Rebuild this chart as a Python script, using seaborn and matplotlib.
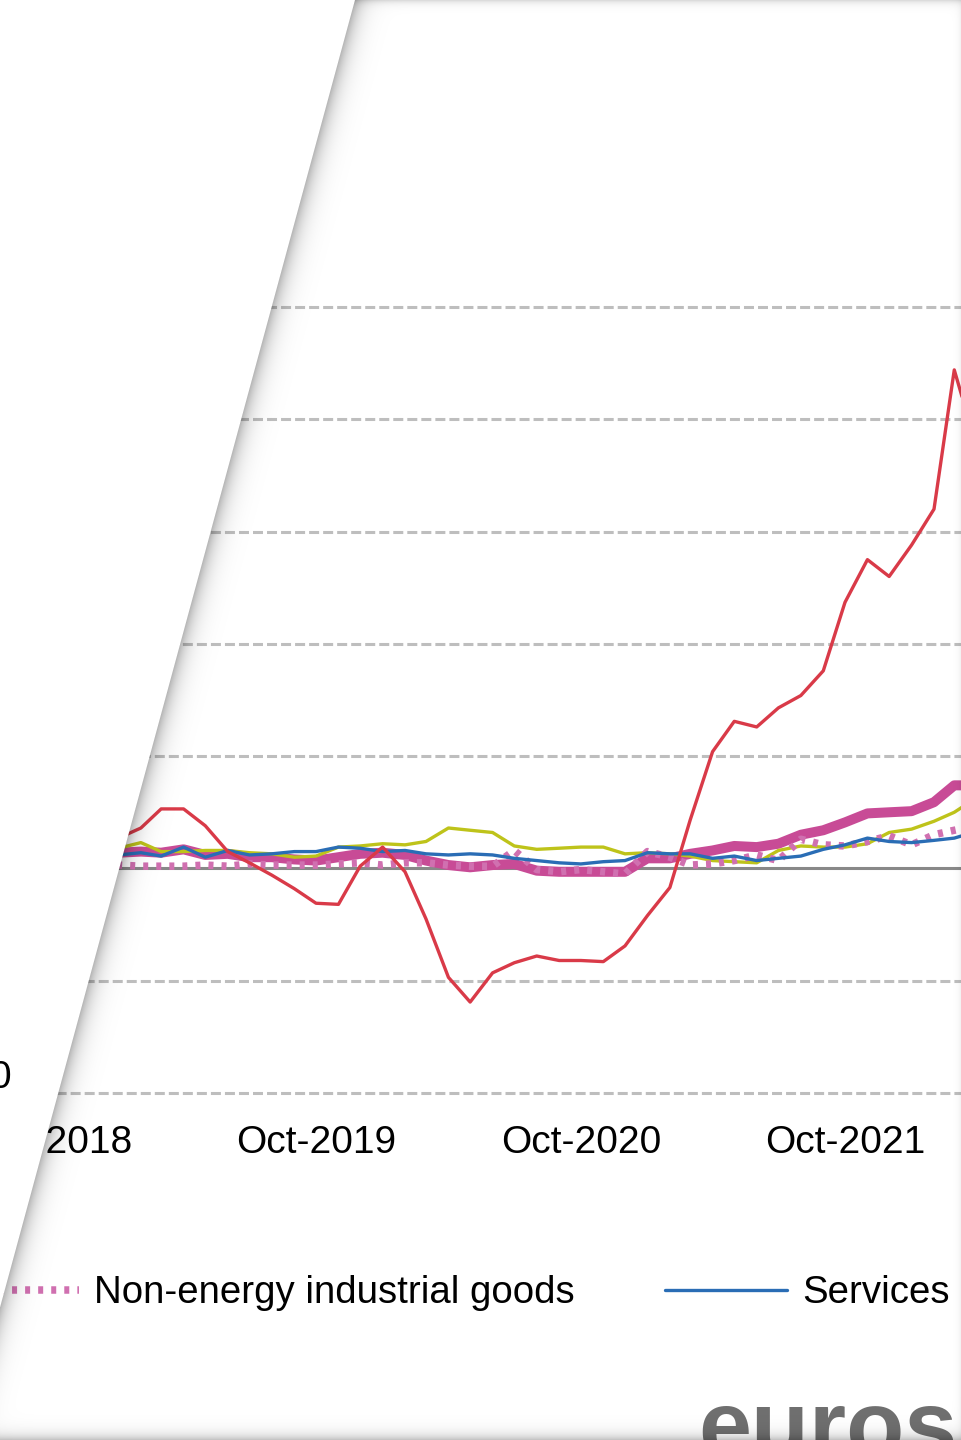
import numpy as np
import pandas as pd
import matplotlib
matplotlib.use("Agg")
import matplotlib.pyplot as plt
import matplotlib.dates as mdates
import seaborn as sns

# euro area HICP, annual rate of change (%), Oct 2018 - Apr 2022
months = pd.date_range("2018-10-01", "2022-04-01", freq="MS")

all_items = [2.3, 1.9, 1.5,
             1.4, 1.5, 1.4, 1.7, 1.2, 1.3, 1.0, 1.0, 0.8, 0.7, 1.0, 1.3,
             1.4, 1.2, 0.7, 0.3, 0.1, 0.3, 0.4, -0.2, -0.3, -0.3, -0.3, -0.3,
             0.9, 0.9, 1.3, 1.6, 2.0, 1.9, 2.2, 3.0, 3.4, 4.1, 4.9, 5.0,
             5.1, 5.9, 7.4, 7.4]
food = [2.2, 1.9, 1.8,
        1.8, 2.3, 1.5, 1.5, 1.6, 1.6, 1.4, 1.3, 1.0, 1.1, 1.9, 2.0,
        2.2, 2.1, 2.4, 3.6, 3.4, 3.2, 2.0, 1.7, 1.8, 1.9, 1.9, 1.3,
        1.4, 1.3, 1.1, 0.7, 0.6, 0.5, 1.6, 2.0, 1.9, 1.9, 2.2, 3.2,
        3.5, 4.2, 5.0, 6.3]
energy = [10.7, 9.1, 5.5,
          2.7, 3.6, 5.3, 5.3, 3.8, 1.5, 0.5, -0.6, -1.8, -3.1, -3.2, 0.2,
          1.9, -0.3, -4.5, -9.7, -11.9, -9.3, -8.4, -7.8, -8.2, -8.2, -8.3, -6.9,
          -4.2, -1.7, 4.3, 10.4, 13.1, 12.6, 14.3, 15.4, 17.6, 23.7, 27.5, 26.0,
          28.8, 32.0, 44.4, 37.5]
neig = [0.4, 0.4, 0.4,
        0.3, 0.2, 0.2, 0.2, 0.3, 0.2, 0.4, 0.3, 0.3, 0.3, 0.4, 0.5,
        0.3, 0.5, 0.5, 0.3, 0.2, 0.2, 1.6, -0.1, -0.3, -0.1, -0.3, -0.5,
        1.5, 1.0, 0.3, 0.4, 0.7, 1.2, 0.7, 2.6, 2.1, 2.0, 2.4, 2.9,
        2.1, 3.0, 3.4, 3.8]
services = [1.5, 1.3, 1.3,
            1.2, 1.4, 1.1, 1.9, 1.0, 1.6, 1.2, 1.3, 1.5, 1.5, 1.9, 1.8,
            1.5, 1.6, 1.3, 1.2, 1.3, 1.2, 0.9, 0.7, 0.5, 0.4, 0.6, 0.7,
            1.4, 1.3, 1.3, 0.9, 1.1, 0.7, 0.9, 1.1, 1.7, 2.1, 2.7, 2.4,
            2.3, 2.5, 2.7, 3.3]

y_grid = [-20, -10, 10, 20, 30, 40, 50]

sns.set_style("white")
plt.rcParams["font.family"] = ["Liberation Sans", "DejaVu Sans"]
plt.rcParams["lines.scale_dashes"] = False

W, H = 961, 1440
fig = plt.figure(figsize=(W / 100, H / 100), dpi=100)
fig.patch.set_facecolor("white")
ax = fig.add_axes([0, 1 - 1093 / H, 1, 786 / H])
ax.set_facecolor("white")

sns.lineplot(x=months, y=all_items, ax=ax, color="#C84B96", linewidth=7.2,
             label="All-items HICP", legend=False)
sns.lineplot(x=months, y=food, ax=ax, color="#BEC31A", linewidth=2.4,
             label="Food, alcohol & tobacco", legend=False)
sns.lineplot(x=months, y=neig, ax=ax, color="#D070B0", linewidth=5.4,
             linestyle=(0, (3.6, 5.8)), label="Non-energy industrial goods", legend=False)
sns.lineplot(x=months, y=services, ax=ax, color="#2A6DB5", linewidth=2.4,
             label="Services", legend=False)
sns.lineplot(x=months, y=energy, ax=ax, color="#D93A48", linewidth=2.4,
             label="Energy", legend=False)

ref = pd.Timestamp("2019-10-01")
ax.set_xlim(ref - pd.Timedelta(days=436.7), ref + pd.Timedelta(days=891.3))
ax.set_ylim(-20, 50)
ax.set_yticks(y_grid)
ax.set_yticklabels([])
ax.tick_params(axis="y", length=0)
ax.set_axisbelow(True)
ax.yaxis.grid(True, color="#BEBEBE", linewidth=2.2, linestyle=(0, (7.2, 2.9)))
for gl in ax.get_ygridlines():
    gl.set_clip_on(False)
ax.xaxis.grid(False)
ax.set_xlabel("")
ax.set_ylabel("")

for s in ["top", "left", "right"]:
    ax.spines[s].set_visible(False)
ax.spines["bottom"].set_position(("data", 0))
ax.spines["bottom"].set_color("#888888")
ax.spines["bottom"].set_linewidth(2.2)
ax.spines["bottom"].set_zorder(1.5)

ax.xaxis.set_major_locator(mdates.MonthLocator(bymonth=10))
ax.xaxis.set_major_formatter(mdates.DateFormatter("%b-%Y"))
ax.tick_params(axis="x", direction="out", length=7.2, width=2.0, color="#888888",
               pad=177.5, labelsize=28, labelcolor="black")

handles, labels = ax.get_legend_handles_labels()
pick = ["Non-energy industrial goods", "Services"]
leg_h = [handles[labels.index(p)] for p in pick]
fig.legend(leg_h, pick, ncol=2, loc="center right",
           bbox_to_anchor=(949.5 / W, 1 - 1293 / H), frameon=False, fontsize=27.6,
           labelcolor="black", handlelength=3.2, handletextpad=0.38,
           columnspacing=2.35, borderpad=0, borderaxespad=0)

# eurostat logo, only its first letters are in view at the bottom edge
fig.text(698 / W, 1 - 1457 / H, "euros", fontsize=68.5, fontweight="bold",
         color="#6F6F6F", ha="left", va="baseline", zorder=3)

# folded page: white flap on the left with a soft shadow along its edge
yy, xx = np.mgrid[0:H, 0:W].astype(float) + 0.5
d = (xx - (355 - 0.2715 * yy)) / 1.036
shade = 0.30 * np.exp(-np.clip(d, 0, None) / 9)
top = 0.16 * np.exp(-yy / 3.5)
bottom = 0.25 * np.exp(-(H - yy) / 6)
right = 0.06 * np.exp(-(W - xx) / 3)
a = 1 - (1 - shade) * (1 - top) * (1 - bottom) * (1 - right)
f = np.clip(0.5 - d, 0, 1)
alpha = f + a * (1 - f)
rgba = np.zeros((H, W, 4))
col = np.where(alpha > 0, f / np.maximum(alpha, 1e-9), 0)
rgba[..., 0] = col
rgba[..., 1] = col
rgba[..., 2] = col
rgba[..., 3] = alpha
fig.figimage(rgba, xo=0, yo=0, origin="upper", zorder=10)

# piece of the left page showing through
fig.text(11.5 / W, 1 - 1088 / H, "0", fontsize=28, color="black",
         ha="right", va="baseline", zorder=11)

fig.savefig("out.png", dpi=100)
